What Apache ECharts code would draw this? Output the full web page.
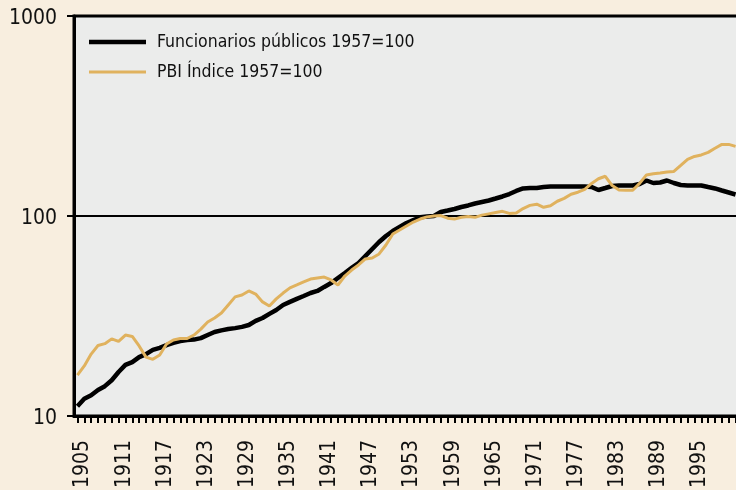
<!DOCTYPE html>
<html style="height: 100%">
<head>
<meta charset="utf-8">
<title>Funcionarios públicos y PBI</title>
<script src="https://cdn.jsdelivr.net/npm/echarts@6/dist/echarts.min.js"></script>
</head>
<body style="height: 100%; margin: 0; background: #f8eedf">
<div id="container" style="width: 736px; height: 490px"></div>
<script type="text/javascript">
// años 1905-2001
var years = [];
for (var y = 1905; y <= 2001; y++) { years.push(String(y)); }

// Funcionarios públicos 1957=100
var funcionarios = [
	11.2, 12.2, 12.7, 13.5, 14.1, 15.1, 16.6, 18.0, 18.6, 19.7,
	20.4, 21.4, 21.9, 22.6, 23.2, 23.7, 24.0, 24.1, 24.5, 25.4,
	26.3, 26.8, 27.2, 27.5, 27.9, 28.5, 29.9, 30.9, 32.4, 33.9,
	35.9, 37.2, 38.5, 39.8, 41.2, 42.2, 44.2, 46.2, 49.0, 51.9,
	55.0, 58.2, 63.1, 68.4, 74.1, 79.4, 84.1, 88.1, 92.3, 95.5,
	98.5, 99.5, 100, 104.7, 106.5, 108.4, 110.9, 112.9, 115.5, 117.5,
	119.5, 122.3, 125.2, 128.8, 133.4, 137.3, 138.0, 138.0, 139.6, 140.5,
	140.5, 140.5, 140.5, 140.5, 140.5, 139.6, 134.9, 138.0, 141.3, 142.1,
	142.1, 142.1, 144.5, 150.5, 146.2, 147.1, 150.5, 146.2, 142.9, 142.1,
	142.1, 142.1, 139.6, 137.3, 134.1, 131.1, 128.1
];

// PBI Índice 1957=100
var pbi = [
	16.0, 17.8, 20.4, 22.5, 23.0, 24.3, 23.6, 25.4, 25.0, 22.4,
	19.7, 19.2, 20.2, 22.9, 24.0, 24.4, 24.4, 25.4, 27.2, 29.5,
	30.9, 32.7, 35.9, 39.4, 40.3, 42.2, 40.7, 37.2, 35.5, 38.5,
	41.2, 43.7, 45.2, 46.8, 48.4, 49.0, 49.5, 47.9, 45.2, 50.1,
	53.7, 56.9, 61.0, 61.7, 64.6, 71.6, 81.3, 85.1, 89.1, 93.3,
	96.6, 99, 100, 100.5, 97.5, 96.5, 98.5, 99.5, 98.5, 101,
	102.5, 104, 105.5, 103, 103.5, 109, 113, 114.5, 110.5, 112.5,
	118.5, 122.5, 128.5, 131.5, 136, 145.5, 153.5, 158, 142, 135,
	134.5, 134.5, 145.5, 160.5, 162.5, 164, 166, 167, 179, 192,
	198.5, 202, 208, 218, 228, 228, 223
];

var myChart = echarts.init(document.getElementById('container'));

var fontFamily = '"Liberation Sans Narrow", "DejaVu Sans Condensed", sans-serif';

function legendBox(name, top, thick) {
	return {
		orient : 'vertical',
		left : 89,
		top : top,
		padding : 0,
		icon : 'rect',
		itemWidth : 57,
		itemHeight : thick,
		textStyle : {
			fontFamily : fontFamily,
			fontSize : 17.5,
			lineHeight : 24,
			color : '#111',
			padding : [ 0, 0, 0, 6 ]
		},
		data : [ name ]
	};
}

var option = {
	backgroundColor : '#f8eedf',
	animation : false,
	textStyle : {
		fontFamily : fontFamily
	},
	grid : {
		left : 74,
		top : 16,
		right : -3,
		bottom : 74,
		outerBoundsMode : 'none',
		containLabel : false,
		show : true,
		backgroundColor : '#ebeceb',
		borderColor : '#000',
		borderWidth : 3
	},
	legend : [
		legendBox('Funcionarios públicos 1957=100', 30, 4.5),
		legendBox('PBI Índice 1957=100', 60, 3)
	],
	xAxis : {
		type : 'category',
		data : years,
		boundaryGap : true,
		axisLine : {
			show : true,
			lineStyle : {
				color : '#000',
				width : 3
			}
		},
		axisTick : {
			show : true,
			inside : false,
			interval : 0,
			alignWithLabel : true,
			length : 7,
			lineStyle : {
				color : '#000',
				width : 2
			}
		},
		axisLabel : {
			interval : function(index) {
				return index % 6 === 0 && index < 96;
			},
			rotate : 90,
			margin : 24,
			verticalAlign : 'top',
			lineHeight : 11,
			fontSize : 21,
			fontFamily : fontFamily,
			color : '#111'
		},
		splitLine : {
			show : false
		}
	},
	yAxis : {
		type : 'log',
		logBase : 10,
		min : 10,
		max : 1000,
		axisLine : {
			show : true,
			lineStyle : {
				color : '#000',
				width : 3
			}
		},
		axisTick : {
			show : true,
			inside : false,
			length : 7,
			lineStyle : {
				color : '#000',
				width : 2
			}
		},
		axisLabel : {
			margin : 17,
			verticalAlign : 'top',
			lineHeight : 6,
			fontSize : 21,
			fontFamily : fontFamily,
			color : '#111',
			formatter : function(v) {
				return String(Math.round(v));
			}
		},
		splitLine : {
			show : true,
			lineStyle : {
				color : '#000',
				width : 2
			}
		},
		minorTick : {
			show : false
		}
	},
	series : [ {
		name : 'Funcionarios públicos 1957=100',
		type : 'line',
		data : funcionarios,
		symbol : 'none',
		color : '#000',
		lineStyle : {
			color : '#000',
			width : 4.5
		}
	}, {
		name : 'PBI Índice 1957=100',
		type : 'line',
		data : pbi,
		symbol : 'none',
		color : '#e0b25e',
		lineStyle : {
			color : '#e0b25e',
			width : 3
		}
	} ]
};

myChart.setOption(option);
</script>
</body>
</html>
